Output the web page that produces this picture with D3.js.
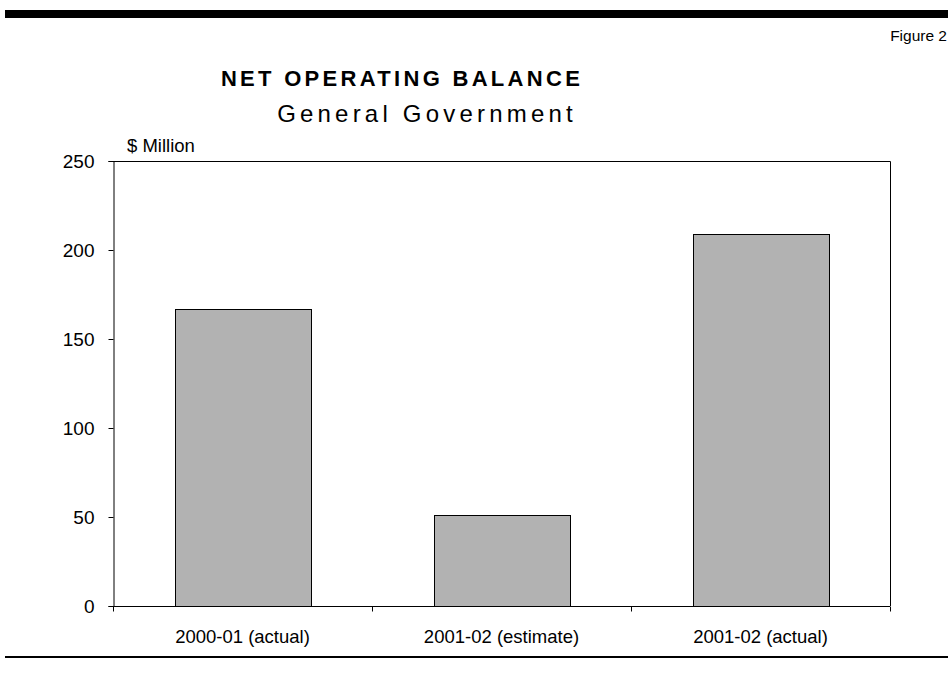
<!DOCTYPE html>
<html>
  <head>
    <meta charset="utf-8">
    <title>Net operating balance</title>
    <script src="https://cdn.jsdelivr.net/npm/d3@7"></script>
    <style>
      body { margin: 0; background: #fff; }
      text { font-family: "Liberation Sans", Arial, sans-serif; fill: #000; }
    </style>
  </head>
  <body>
    <script>
      // data
      var categories = ["2000-01 (actual)", "2001-02 (estimate)", "2001-02 (actual)"];
      var values = [167, 51.3, 209.2];
      var yTicks = [0, 50, 100, 150, 200, 250];

      var w = 952, h = 673;
      var plotLeft = 113, plotRight = 890, plotTop = 161, plotBottom = 606;

      var svg = d3.select("body").append("svg")
        .attr("width", w)
        .attr("height", h);

      // page rules
      svg.append("rect").attr("x", 5).attr("y", 10).attr("width", 943).attr("height", 8).attr("fill", "#000");
      svg.append("rect").attr("x", 5).attr("y", 656).attr("width", 943).attr("height", 2).attr("fill", "#000");

      svg.append("text").attr("x", 947).attr("y", 41).attr("text-anchor", "end")
        .style("font-size", "15.5px").text("Figure 2");

      svg.append("text").attr("x", 402).attr("y", 86).attr("text-anchor", "middle")
        .style("font-size", "22px").style("font-weight", "bold").style("letter-spacing", "3.3px")
        .text("NET OPERATING BALANCE");
      svg.append("text").attr("x", 427).attr("y", 122).attr("text-anchor", "middle")
        .style("font-size", "24px").style("letter-spacing", "4.2px")
        .text("General Government");

      svg.append("text").attr("x", 127).attr("y", 152)
        .style("font-size", "18.5px").text("$ Million");

      var x = d3.scaleBand().domain(categories).range([plotLeft, plotRight]).paddingInner(0.475).paddingOuter(0.2375);
      var y = d3.scaleLinear().domain([0, 250]).range([plotBottom, plotTop]);

      // plot frame (top + right)
      svg.append("path")
        .attr("d", "M" + plotLeft + "," + (y(250) + 0.5) + "H" + (plotRight + 0.5) + "V" + y(0))
        .attr("fill", "none").attr("stroke", "#000").attr("stroke-width", 1);

      svg.selectAll("rect.bar")
        .data(values)
        .enter()
        .append("rect")
        .attr("class", "bar")
        .attr("x", function(d, i) { return Math.round(x(categories[i])) + 0.5; })
        .attr("y", function(d) { return Math.round(y(d)) + 0.5; })
        .attr("width", Math.round(x.bandwidth()))
        .attr("height", function(d) { return Math.round(y(0)) - Math.round(y(d)); })
        .attr("fill", "#b2b2b2")
        .attr("stroke", "#000")
        .attr("stroke-width", 1);

      var yAxis = svg.append("g")
        .attr("transform", "translate(" + (plotLeft + 0.5) + ",0)")
        .call(d3.axisLeft(y).tickValues(yTicks).tickSize(5).tickPadding(14).tickFormat(d3.format("d")));
      yAxis.attr("font-family", null).attr("font-size", null);
      yAxis.selectAll("text").style("font-size", "19px");

      // category axis with ticks between categories
      var xAxis = svg.append("g").attr("transform", "translate(0," + (plotBottom + 0.5) + ")");
      xAxis.append("path").attr("d", "M" + plotLeft + ",0H" + plotRight).attr("stroke", "#000");
      var edges = d3.range(categories.length + 1).map(function(i) {
        return plotLeft + i * (plotRight - plotLeft) / categories.length;
      });
      xAxis.selectAll("line.tk").data(edges).enter().append("line")
        .attr("x1", function(d) { return Math.round(d) + 0.5; })
        .attr("x2", function(d) { return Math.round(d) + 0.5; })
        .attr("y1", 0).attr("y2", 5).attr("stroke", "#000");
      xAxis.selectAll("text.cat").data(categories).enter().append("text")
        .attr("x", function(d) { return x(d) + x.bandwidth() / 2; })
        .attr("y", 36).attr("text-anchor", "middle")
        .style("font-size", "18.5px").text(function(d) { return d; });
    </script>
  </body>
</html>
